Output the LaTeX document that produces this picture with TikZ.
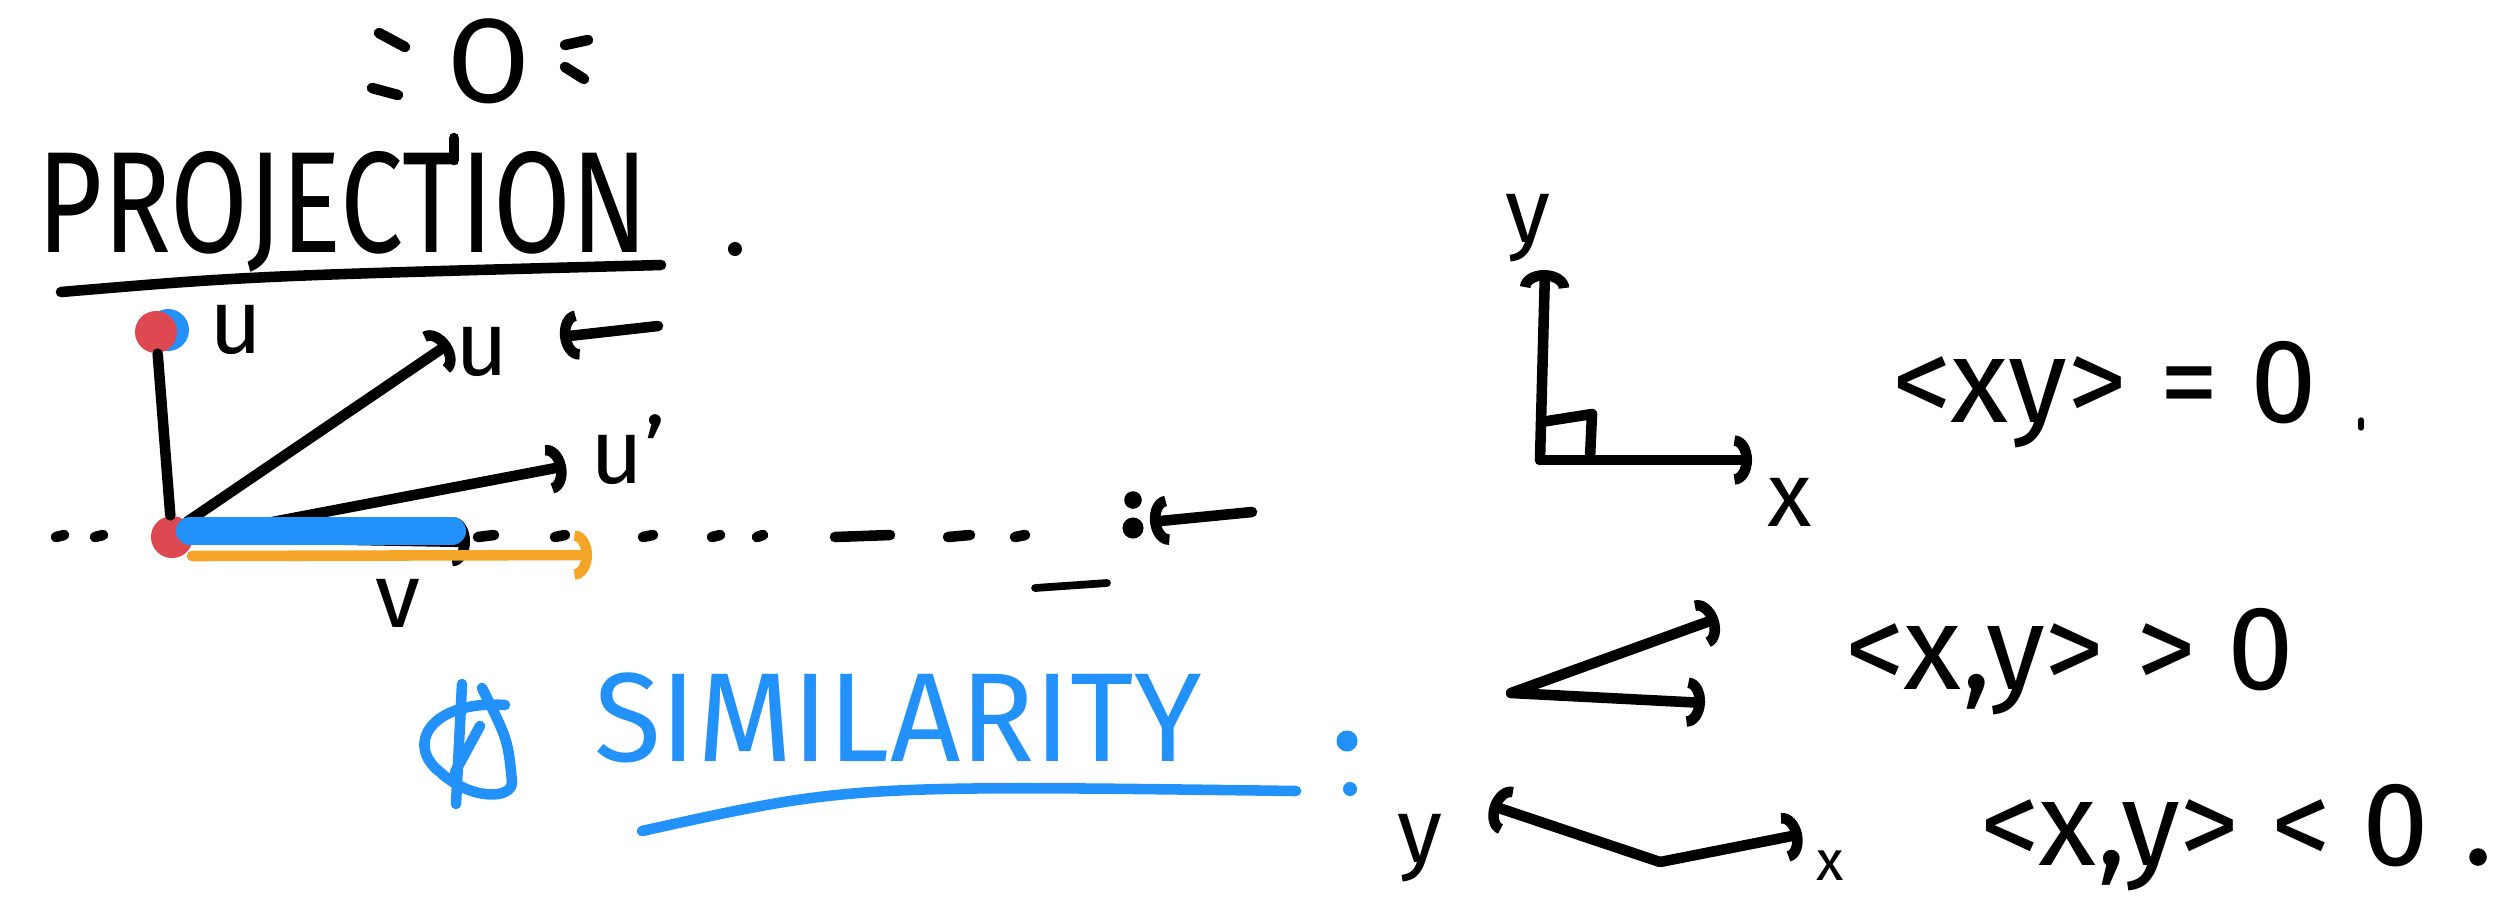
\documentclass[tikz,border=0pt]{standalone}
\usepackage{fontspec}
\setmainfont{Fira Sans}
\usepackage{tikz}
\usetikzlibrary{arrows.meta, positioning}
\definecolor{inkBlue}{RGB}{35, 145, 250}
\definecolor{inkRed}{RGB}{222, 72, 80}
\definecolor{inkOrange}{RGB}{245, 165, 40}

\begin{document}
\begin{tikzpicture}[x=0.01cm, y=-0.01cm,
  pen/.style={line width=3pt, line cap=round, line join=round},
  arr/.style={pen, -{Arc Barb[length=5pt, width=14pt]}},
  dot/.style={circle, fill=inkRed, minimum size=0.42cm, inner sep=0pt},
  head/.style={font=\fontsize{41}{41}\selectfont, inner sep=0pt},
  lbl/.style={font=\fontsize{26}{26}\selectfont, inner sep=0pt},
  eqn/.style={font=\fontsize{34}{34}\selectfont, inner sep=0pt},
]
  \useasboundingbox (0,0) rectangle (2515,899);

  % Title doodle
  \node[lbl, font=\fontsize{34}{34}\selectfont] (oh) at (489,61) {O};
  \draw[pen] (379,33) -- (405,47);
  \draw[pen] (372,88) -- (398,95);
  \draw[pen] (565,45) -- (588,40);
  \draw[pen] (565,67) -- (584,79);
  \draw[pen] (454,138) -- (454,160);

  % Projection heading
  \node[head, xscale=0.78] (proj) at (343,212) {PROJECTION};
  \draw[pen] (61,292) .. controls (250,276) .. (661,265);
  \fill (735,249) circle (2pt);

  % Dotted base line
  \foreach \x/\l in {56/8, 95/8, 478/16, 555/10, 643/10, 712/8, 757/6, 835/55, 948/22, 1015/10} {
    \draw[pen] (\x,537) -- ++(\l,-2);
  }
  \fill (1133,500) circle (2.5pt);
  \fill (1133,528) circle (3pt);
  \coordinate (lineEnd) at (1252,512);
  \coordinate (lineTip) at (1150,522);
  \draw[arr] (lineEnd) -- (lineTip);
  \draw[pen, line width=2.2pt] (1035,588) -- (1107,583);

  % Vectors
  \fill[inkBlue] (168,330) circle (0.21cm);
  \node[dot] (top) at (156,332) {};
  \node[dot] (orig) at (172,537) {};
  \node[lbl] (uTop) at (236,330) {u};
  \coordinate (uTip) at (450,343);
  \coordinate (upTip) at (566,466);
  \coordinate (pTip) at (470,542);
  \draw[pen] (top) -- (orig);
  \draw[arr] (orig.north east) -- (uTip);
  \draw[arr] (orig.east) -- (upTip);
  \draw[arr] (orig.east) -- (pTip);
  \draw[line width=8pt, inkBlue, line cap=round] (190,531) -- (452,531);
  \node[lbl] (uLbl) at (482,352) {u};
  \node[lbl] (upLbl) at (628,450) {u'};
  \coordinate (uPoint) at (658,326);
  \coordinate (uMark) at (560,337);
  \draw[arr] (uPoint) -- (uMark);

  % Projection length
  \coordinate (vStart) at (192,556);
  \coordinate (vEnd) at (592,555);
  \draw[pen, inkOrange, -{Arc Barb[length=5pt, width=14pt]}] (vStart) -- (vEnd);
  \node[lbl] (vLbl) at (398,603) {v};

  % Similarity heading
  \begin{scope}[inkBlue]
    \draw[pen] (505,705) .. controls (430,700) and (405,745) .. (440,772)
      .. controls (470,800) and (512,800) .. (512,782) .. controls (508,740) .. (482,688);
    \draw[pen] (462,684) -- (456,804);
    \draw[pen] (480,726) -- (455,772);
    \node[head, font=\fontsize{36}{36}\selectfont, xscale=0.97, text=inkBlue] (simil) at (898,718) {SIMILARITY};
    \draw[pen] (642,831) .. controls (850,785) .. (1296,791);
    \fill (1347,741) circle (3pt);
    \fill (1350,789) circle (2pt);
  \end{scope}

  % Orthogonal axes
  \coordinate (ax0) at (1540,460);
  \coordinate (axY) at (1545,270);
  \coordinate (axX) at (1752,460);
  \draw[arr] (ax0) -- (axY);
  \draw[arr] (ax0) -- (axX);
  \draw[pen] (1541,422) -- (1592,414) -- (1590,458);
  \node[lbl] (yTop) at (1528,228) {y};
  \node[lbl] (xTop) at (1790,502) {x};
  \node[eqn] (eqZero) at (2105,395) {<xy> = 0};
  \draw[pen, line width=1.5pt] (2361,420) -- (2361,428);

  % Acute angle
  \coordinate (acO) at (1511,693);
  \coordinate (acA) at (1718,618);
  \coordinate (acB) at (1705,703);
  \draw[arr] (acO) -- (acA);
  \draw[arr] (acO) -- (acB);
  \node[eqn] (eqPos) at (2070,662) {<x,y> > 0};

  % Obtuse angle
  \coordinate (obO) at (1660,862);
  \coordinate (obY) at (1490,805);
  \coordinate (obX) at (1802,834);
  \draw[arr] (obO) -- (obY);
  \draw[arr] (obO) -- (obX);
  \node[lbl] (yBot) at (1420,848) {y};
  \node[lbl, font=\fontsize{16}{16}\selectfont] (xBot) at (1830,866) {x};
  \node[eqn] (eqNeg) at (2205,838) {<x,y> < 0};
  \fill (2478,857) circle (2.5pt);

\end{tikzpicture}
\end{document}
